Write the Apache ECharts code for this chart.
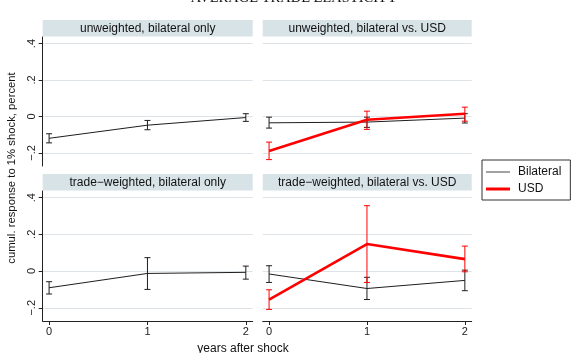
<!DOCTYPE html>
<html><head><meta charset="utf-8">
<script src="https://cdn.jsdelivr.net/npm/echarts@6/dist/echarts.min.js"></script>
<style>html,body{margin:0;padding:0;background:#fff}#c{width:574px;height:353px}</style>
</head><body><div id="c"></div>
<script>
// ---------- data ----------
const years = [0, 1, 2];
const xTicks = [0, 1, 2];
const yTicks = [-0.2, 0, 0.2, 0.4];
const panelTitles = ['unweighted, bilateral only', 'unweighted, bilateral vs. USD',
                     'trade\u2212weighted, bilateral only', 'trade\u2212weighted, bilateral vs. USD'];
const seriesNames = ['Bilateral', 'USD'];

// panel 1: unweighted, bilateral only
const uwOnlyBil   = [-0.120, -0.048, -0.006];
const uwOnlyBilLo = [-0.145, -0.073, -0.027];
const uwOnlyBilHi = [-0.095, -0.022,  0.015];
// panel 2: unweighted, bilateral vs USD
const uwVsBil   = [-0.035, -0.031, -0.009];
const uwVsBilLo = [-0.064, -0.060, -0.036];
const uwVsBilHi = [-0.004, -0.004,  0.015];
const uwVsUsd   = [-0.190, -0.018,  0.015];
const uwVsUsdLo = [-0.237, -0.071, -0.026];
const uwVsUsdHi = [-0.141,  0.029,  0.051];
// panel 3: trade-weighted, bilateral only
const twOnlyBil   = [-0.091, -0.013, -0.007];
const twOnlyBilLo = [-0.125, -0.100, -0.044];
const twOnlyBilHi = [-0.058,  0.073,  0.027];
// panel 4: trade-weighted, bilateral vs USD
const twVsBil   = [-0.016, -0.095, -0.051];
const twVsBilLo = [-0.062, -0.155, -0.107];
const twVsBilHi = [ 0.029, -0.034,  0.005];
const twVsUsd   = [-0.156,  0.147,  0.065];
const twVsUsdLo = [-0.209, -0.062, -0.004];
const twVsUsdHi = [-0.102,  0.356,  0.136];

// ---------- layout ----------
const FONT = 'Liberation Sans, Arial, Helvetica, sans-serif';
const AX = '#222';
const BLK = '#1e1e1e';
const RED = '#ff0000';
const grids = [
  {left: 42.7, top: 37, width: 210, height: 129},
  {left: 262.7, top: 37, width: 209, height: 129},
  {left: 42.7, top: 191, width: 210, height: 130},
  {left: 262.7, top: 191, width: 209, height: 130}
];
const hdrH = 16.5;

function fmtY(v) {
  if (Math.abs(v) < 1e-9) return '0';
  return (v < 0 ? '\u2212' : '') + Math.abs(v).toFixed(1).replace(/^0/, '');
}

const xAxes = grids.map((g, i) => {
  const bottom = i >= 2;
  return {
    gridIndex: i, type: 'value', min: -0.065, max: 2.07,
    axisLine: {show: bottom, onZero: false, lineStyle: {color: AX, width: 1}},
    axisTick: {show: bottom, customValues: xTicks, length: 4, lineStyle: {color: AX}},
    axisLabel: {show: bottom, customValues: xTicks, color: AX, fontSize: 11, fontFamily: FONT, margin: 5},
    splitLine: {show: false}
  };
});
const yAxes = grids.map((g, i) => {
  const left = i % 2 === 0;
  return {
    gridIndex: i, type: 'value', min: -0.272, max: 0.436,
    axisLine: {show: left, onZero: false, lineStyle: {color: AX, width: 1}},
    axisTick: {show: left, customValues: yTicks, length: 4, lineStyle: {color: AX}},
    axisLabel: {show: left, customValues: yTicks, rotate: 90, color: AX, fontSize: 11,
                fontFamily: FONT, margin: 5, formatter: fmtY},
    splitLine: {show: true, lineStyle: {color: '#dde3e6', width: 1}}
  };
});

function errSeries(idx, lo, hi, color, z) {
  return {
    type: 'custom', xAxisIndex: idx, yAxisIndex: idx, silent: true, z: z,
    data: years.map((x, k) => [x, lo[k], hi[k]]),
    encode: {x: 0, y: [1, 2]},
    renderItem: function (params, api) {
      const x = api.value(0);
      const p1 = api.coord([x, api.value(1)]);
      const p2 = api.coord([x, api.value(2)]);
      const w = 3;
      const st = {stroke: color, lineWidth: 1};
      return {type: 'group', children: [
        {type: 'line', shape: {x1: p1[0], y1: p1[1], x2: p2[0], y2: p2[1]}, style: st},
        {type: 'line', shape: {x1: p1[0] - w, y1: p1[1], x2: p1[0] + w, y2: p1[1]}, style: st},
        {type: 'line', shape: {x1: p2[0] - w, y1: p2[1], x2: p2[0] + w, y2: p2[1]}, style: st}
      ]};
    }
  };
}
function lineSeries(idx, name, vals, color, width, z) {
  return {
    type: 'line', name: name, xAxisIndex: idx, yAxisIndex: idx, z: z,
    data: years.map((x, k) => [x, vals[k]]),
    symbol: 'none', showSymbol: false, silent: true,
    lineStyle: {color: color, width: width}, itemStyle: {color: color},
    animation: false
  };
}

const series = [
  errSeries(0, uwOnlyBilLo, uwOnlyBilHi, BLK, 2),
  lineSeries(0, seriesNames[0], uwOnlyBil, BLK, 1, 3),

  errSeries(1, uwVsBilLo, uwVsBilHi, BLK, 2),
  lineSeries(1, seriesNames[0], uwVsBil, BLK, 1, 3),
  errSeries(1, uwVsUsdLo, uwVsUsdHi, RED, 4),
  lineSeries(1, seriesNames[1], uwVsUsd, RED, 2.6, 5),

  errSeries(2, twOnlyBilLo, twOnlyBilHi, BLK, 2),
  lineSeries(2, seriesNames[0], twOnlyBil, BLK, 1, 3),

  errSeries(3, twVsBilLo, twVsBilHi, BLK, 2),
  lineSeries(3, seriesNames[0], twVsBil, BLK, 1, 3),
  errSeries(3, twVsUsdLo, twVsUsdHi, RED, 4),
  lineSeries(3, seriesNames[1], twVsUsd, RED, 2.6, 5)
];

const graphics = [];
grids.forEach((g, i) => {
  graphics.push({type: 'rect', silent: true, z: 0,
    shape: {x: g.left, y: g.top - hdrH - 0.5, width: g.width, height: hdrH},
    style: {fill: '#d8e3e8'}});
  graphics.push({type: 'text', silent: true, z: 1,
    x: g.left + g.width / 2, y: g.top - hdrH / 2 - 0.5,
    style: {text: panelTitles[i], fill: '#111', font: '12px ' + FONT, align: 'center', verticalAlign: 'middle'}});
});
graphics.push({type: 'text', silent: true, x: 294, y: -1.5,
  style: {text: 'AVERAGE TRADE ELASTICITY', fill: '#111', font: '14.5px Liberation Serif, DejaVu Serif, serif',
          align: 'center', verticalAlign: 'middle'}});
graphics.push({type: 'text', silent: true, x: 12, y: 168, rotation: Math.PI / 2,
  style: {text: 'cumul. response to 1% shock, percent', fill: '#111', font: '11.3px ' + FONT,
          align: 'center', verticalAlign: 'middle'}});
graphics.push({type: 'text', silent: true, x: 243, y: 348.5,
  style: {text: 'years after shock', fill: '#111', font: '12px ' + FONT,
          align: 'center', verticalAlign: 'middle'}});

const chart = echarts.init(document.getElementById('c'), null, {renderer: 'canvas'});
chart.setOption({
  animation: false,
  backgroundColor: '#fff',
  grid: grids.map(g => Object.assign({containLabel: false}, g)),
  xAxis: xAxes,
  yAxis: yAxes,
  legend: {
    data: [
      {name: seriesNames[0], icon: 'path://M0,0H24V1H0Z', itemStyle: {color: '#444'}},
      {name: seriesNames[1], icon: 'path://M0,0H24V3H0Z', itemStyle: {color: RED}}
    ],
    orient: 'vertical', left: 482, top: 160,
    borderColor: '#333', borderWidth: 1, borderRadius: 0,
    padding: [6, 9, 5, 4], itemWidth: 24, itemHeight: 14, itemGap: 5,
    textStyle: {fontSize: 12, fontFamily: FONT, color: '#111', padding: [0, 0, 0, 3]},
    selectedMode: false
  },
  graphic: graphics,
  series: series
});
</script>
</body></html>
